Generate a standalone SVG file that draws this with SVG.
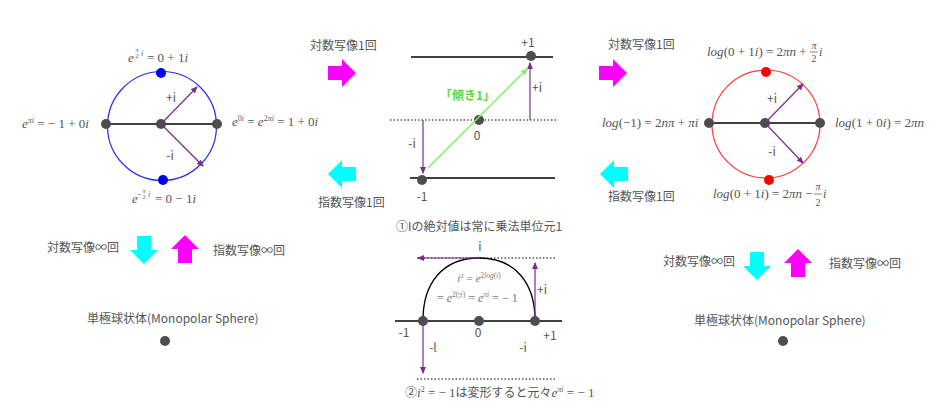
<svg xmlns="http://www.w3.org/2000/svg" width="936" height="414" viewBox="0 0 936 414">
<style>
.t{font-family:"Noto Sans CJK JP","Noto Sans",sans-serif;font-size:12px;fill:#555}
.m{font-family:"Liberation Serif",serif;font-size:13px;fill:#555}
.s{font-family:"Liberation Serif",serif;fill:#555}
.i{font-style:italic}
.pl{stroke:#7b2d8b;stroke-width:1.2;fill:none;marker-end:url(#ah)}
.bl{stroke:#000;stroke-width:1.3;fill:none}
.dt{stroke:#000;stroke-width:1.2;stroke-dasharray:1.5 2;fill:none}
.dot{fill:#4d4d4d}
.mag{fill:#ff00ff}
.cy{fill:#00ffff}
.fl{stroke:#555;stroke-width:0.7}
</style>
<defs>
<marker id="ah" markerWidth="7" markerHeight="6" refX="6" refY="3" orient="auto" markerUnits="userSpaceOnUse"><path d="M0,0 L7,3 L0,6 z" fill="#7b2d8b"/></marker>
<marker id="ag" markerWidth="7" markerHeight="6" refX="6" refY="3" orient="auto" markerUnits="userSpaceOnUse"><path d="M0,0 L7,3 L0,6 z" fill="#7ef06a"/></marker>
<path id="barr" d="M-14,-7 H0 V-14 L14,0 L0,14 V7 H-14 Z"/>
</defs>

<!-- left circle node -->
<g id="exp-circle">
<circle cx="162" cy="126" r="54.5" fill="none" stroke="#2a2aee" stroke-width="1.2"/>
<path class="bl" d="M106,124 H217"/>
<circle class="dot" cx="106" cy="124" r="5"/>
<circle class="dot" cx="161" cy="124" r="5"/>
<circle class="dot" cx="217" cy="124" r="5"/>
<circle cx="161" cy="73" r="5" fill="#0000ff"/>
<circle cx="163" cy="180" r="5" fill="#0000ff"/>
<path class="pl" d="M161,124 L197,87"/>
<path class="pl" d="M161,124 L203,166"/>
<text class="t" x="171" y="102" text-anchor="middle">+i</text>
<text class="t" x="170" y="160" text-anchor="middle">-i</text>
<text class="m" x="128" y="62"><tspan class="i">e</tspan></text>
<text class="s i" x="137" y="52" font-size="6" text-anchor="middle">π</text>
<text class="s" x="137" y="58" font-size="6" text-anchor="middle">2</text>
<text class="s i" x="141" y="56" font-size="8">i</text>
<text class="m" x="147" y="62">= 0 + 1<tspan class="i">i</tspan></text>
<text class="m" x="22" y="128"><tspan class="i">e</tspan><tspan class="i" font-size="8" dy="-5">πi</tspan><tspan dy="5"> = − 1 + 0</tspan><tspan class="i">i</tspan></text>
<text class="m" x="232" y="126"><tspan class="i">e</tspan><tspan font-size="8" dy="-5">0<tspan class="i">i</tspan></tspan><tspan dy="5"> = </tspan><tspan class="i">e</tspan><tspan font-size="8" dy="-5">2<tspan class="i">πi</tspan></tspan><tspan dy="5"> = 1 + 0</tspan><tspan class="i">i</tspan></text>
<text class="m" x="132" y="203"><tspan class="i">e</tspan></text>
<text class="s" x="137" y="197" font-size="8">−</text>
<text class="s i" x="144" y="193" font-size="6" text-anchor="middle">π</text>
<text class="s" x="144" y="199" font-size="6" text-anchor="middle">2</text>
<text class="s i" x="148" y="197" font-size="8">i</text>
<text class="m" x="155" y="203">= 0 − 1<tspan class="i">i</tspan></text>
</g>

<!-- middle arrows between panels -->
<g id="map-left">
<text class="t" x="310" y="50">対数写像1回</text>
<use href="#barr" class="mag" transform="translate(342,73)"/>
<use href="#barr" class="cy" transform="translate(342,174) rotate(180)"/>
<text class="t" x="318" y="207">指数写像1回</text>
</g>

<!-- middle line graph node -->
<g id="line-graph">
<path class="bl" d="M411,57 H553"/>
<path class="dt" d="M390,120 H557"/>
<path class="bl" d="M410,178 H555"/>
<circle class="dot" cx="531" cy="56" r="5"/>
<circle class="dot" cx="479" cy="120" r="5"/>
<circle class="dot" cx="422" cy="180" r="5"/>
<text class="t" x="528" y="47" text-anchor="middle">+1</text>
<text class="t" x="477" y="140" text-anchor="middle">0</text>
<text class="t" x="422" y="201" text-anchor="middle">-1</text>
<text class="t" x="412" y="148" text-anchor="middle">-i</text>
<text class="t" x="537" y="92" text-anchor="middle">+i</text>
<text class="t" x="440" y="100" font-size="11" style="fill:#5cd83a;font-weight:bold">「傾き1」</text>
<text class="t" x="396" y="231">①Iの絶対値は常に乗法単位元1</text>
</g>

<!-- right maps -->
<g id="map-right">
<text class="t" x="608" y="49">対数写像1回</text>
<use href="#barr" class="mag" transform="translate(613,73)"/>
<use href="#barr" class="cy" transform="translate(614,174) rotate(180)"/>
<text class="t" x="608" y="201">指数写像1回</text>
</g>

<!-- right circle node -->
<g id="log-circle">
<circle cx="766" cy="124" r="54" fill="none" stroke="#ff3b3b" stroke-width="1.2"/>
<path class="bl" d="M709,123 H820"/>
<circle class="dot" cx="709" cy="123" r="5"/>
<circle class="dot" cx="765" cy="123" r="5"/>
<circle class="dot" cx="820" cy="123" r="5"/>
<circle cx="766" cy="72" r="5" fill="#ff0000"/>
<circle cx="769" cy="180" r="5" fill="#ff0000"/>
<path class="pl" d="M765,123 L803,84"/>
<path class="pl" d="M765,123 L803,163"/>
<text class="t" x="772" y="103" text-anchor="middle">+i</text>
<text class="t" x="772" y="156" text-anchor="middle">-i</text>
<text class="m" x="707" y="56" font-size="12"><tspan class="i">log</tspan>(0 + 1<tspan class="i">i</tspan>) = 2<tspan class="i">πn</tspan> +</text>
<text class="s i" x="814" y="49" font-size="10" text-anchor="middle">π</text>
<path class="fl" d="M810,52 H818"/>
<text class="s" x="814" y="62" font-size="10" text-anchor="middle">2</text>
<text class="s i" x="819" y="56" font-size="12">i</text>
<text class="m" x="713" y="198" font-size="12"><tspan class="i">log</tspan>(0 + 1<tspan class="i">i</tspan>) = 2<tspan class="i">πn</tspan> −</text>
<text class="s i" x="818" y="190" font-size="10" text-anchor="middle">π</text>
<path class="fl" d="M814,194 H822"/>
<text class="s" x="818" y="206" font-size="10" text-anchor="middle">2</text>
<text class="s i" x="823" y="198" font-size="12">i</text>
<text class="m" x="602" y="127" font-size="12"><tspan class="i">log</tspan>(−1) = 2<tspan class="i">nπ</tspan> + <tspan class="i">πi</tspan></text>
<text class="m" x="835" y="127" font-size="12"><tspan class="i">log</tspan>(1 + 0<tspan class="i">i</tspan>) = 2<tspan class="i">πn</tspan></text>
</g>

<!-- bottom left node -->
<g id="sphere-left">
<text class="t" x="47" y="252">対数写像∞回</text>
<use href="#barr" class="cy" transform="translate(144,250) rotate(90)"/>
<use href="#barr" class="mag" transform="translate(185,249) rotate(-90)"/>
<text class="t" x="213" y="255">指数写像∞回</text>
<text class="t" x="87" y="323">単極球状体(Monopolar Sphere)</text>
<circle class="dot" cx="165" cy="341" r="5"/>
</g>

<!-- bottom right node -->
<g id="sphere-right">
<text class="t" x="663" y="266">対数写像∞回</text>
<use href="#barr" class="cy" transform="translate(757,266) rotate(90)"/>
<use href="#barr" class="mag" transform="translate(798,263) rotate(-90)"/>
<text class="t" x="829" y="268">指数写像∞回</text>
<text class="t" x="694" y="325">単極球状体(Monopolar Sphere)</text>
<circle class="dot" cx="783" cy="341" r="5"/>
</g>

<!-- bottom middle arc node -->
<g id="arc-graph">
<path class="dt" d="M417,258 H557"/>
<path class="bl" d="M395,321 H562"/>
<path class="dt" d="M417,379 H557"/>
<path d="M423,320 C423,284 442,258 479,258 C516,258 535,284 535,320" fill="none" stroke="#000" stroke-width="1.3"/>
<circle class="dot" cx="423" cy="321" r="5"/>
<circle class="dot" cx="479" cy="321" r="5"/>
<circle class="dot" cx="535" cy="321" r="5"/>
<text class="t" x="480" y="251" text-anchor="middle">i</text>
<text class="t" x="542" y="294" text-anchor="middle">+i</text>
<text class="t" x="404" y="337" text-anchor="middle">-1</text>
<text class="t" x="478" y="337" text-anchor="middle">0</text>
<text class="t" x="550" y="340" text-anchor="middle">+1</text>
<text class="t" x="433" y="352" text-anchor="middle">-l</text>
<text class="t" x="523" y="352" text-anchor="middle">-i</text>
<text class="s" x="479" y="282" font-size="11" text-anchor="middle" style="fill:#777"><tspan class="i">i</tspan><tspan font-size="7" dy="-4">2</tspan><tspan dy="4"> = </tspan><tspan class="i">e</tspan><tspan font-size="7.5" dy="-4">2<tspan class="i">log</tspan>(<tspan class="i">i</tspan>)</tspan></text>
<text class="s" x="437" y="302" font-size="12" style="fill:#777">= <tspan class="i">e</tspan><tspan font-size="7.5" dy="-5">2(</tspan><tspan font-size="5" dy="-2" class="i">π</tspan><tspan font-size="5" dx="-2.8" dy="4">2</tspan><tspan font-size="7.5" dy="-2" class="i">i</tspan><tspan font-size="7.5">)</tspan><tspan dy="5"> = </tspan><tspan class="i">e</tspan><tspan font-size="7.5" dy="-5" class="i">πi</tspan><tspan dy="5"> = − 1</tspan></text>
<text class="t" x="405" y="397">②<tspan class="s i" font-size="13">i</tspan><tspan class="s" font-size="8" dy="-5">2</tspan><tspan class="s" font-size="13" dy="5"> = − 1</tspan>は変形すると元々<tspan class="s i" font-size="13">e</tspan><tspan class="s i" font-size="8" dy="-5">πi</tspan><tspan class="s" font-size="13" dy="5"> = − 1</tspan></text>
</g>

<!-- connectors -->
<g id="connectors">
<path class="pl" d="M530,120 V63"/>
<path class="pl" d="M423,120 V173"/>
<path d="M428,168 L527,69" stroke="#7ef06a" stroke-width="1.5" fill="none" marker-end="url(#ag)"/>
<path class="pl" d="M480,258 H418"/>
<path class="pl" d="M535,320 V263"/>
<path class="pl" d="M423,320 V373"/>
</g>
</svg>
